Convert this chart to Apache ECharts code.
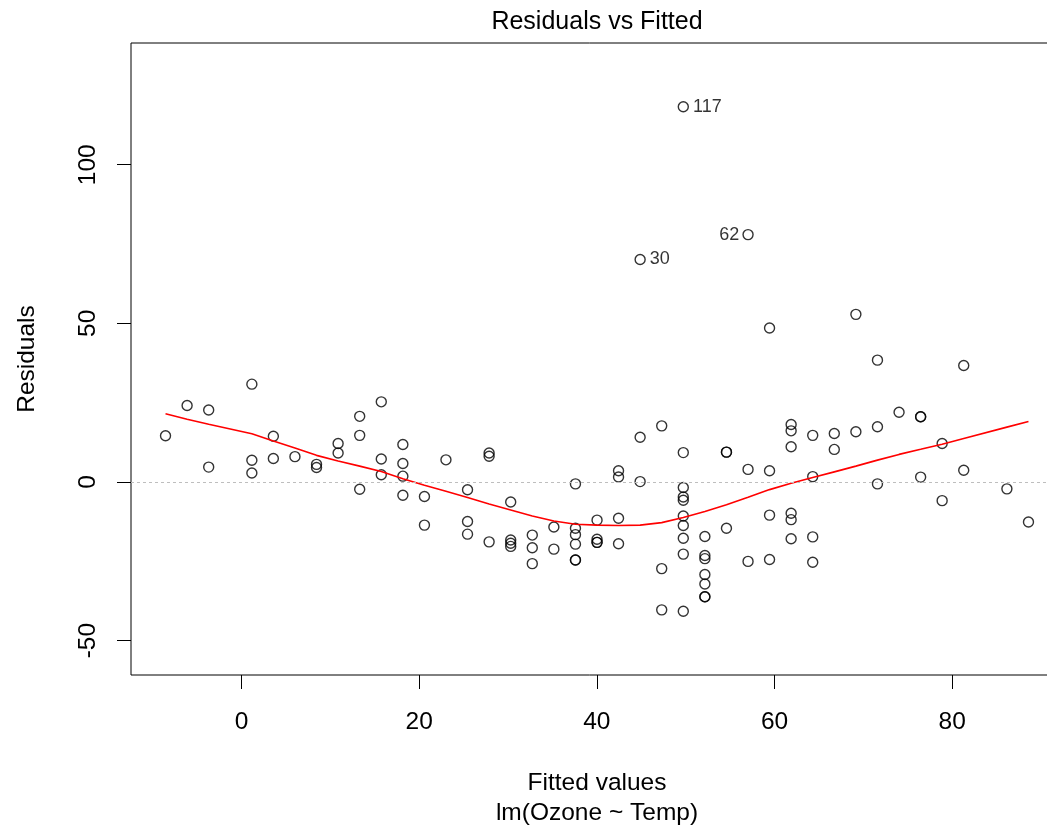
<!DOCTYPE html>
<html>
<head>
<meta charset="utf-8">
<title>Residuals vs Fitted</title>
<script src="https://cdn.jsdelivr.net/npm/echarts@6/dist/echarts.min.js"></script>
<style>
  html, body { margin: 0; padding: 0; background: #fff; }
  #chart { width: 1047px; height: 827px; }
</style>
</head>
<body>
<div id="chart"></div>
<script>
// lm(Ozone ~ Temp), airquality: one entry per complete observation
const rows = [1,2,3,4,6,7,8,9,11,12,13,14,15,16,17,18,19,20,21,22,23,24,28,29,30,31,38,40,41,44,47,48,49,50,51,62,63,64,66,67,68,69,70,71,73,74,76,77,78,79,80,81,82,85,86,87,88,89,90,91,92,93,94,95,96,97,98,99,100,101,104,105,106,108,109,110,111,112,113,114,116,117,118,120,121,122,123,124,125,126,127,128,129,130,131,132,133,134,135,136,137,138,139,140,141,142,143,144,145,146,147,148,149,151,152,153];

const fitted = [15.73,27.87,32.73,3.58,13.30,10.87,-3.70,1.16,32.73,20.59,13.30,18.16,-6.13,8.44,13.30,-8.56,18.16,3.58,-3.70,30.30,1.16,1.16,15.73,49.73,44.87,37.59,52.16,71.59,64.30,52.16,40.02,27.87,10.87,30.30,37.59,57.02,59.44,49.73,54.59,54.59,66.73,76.45,76.45,69.16,30.30,49.73,47.30,49.73,52.16,57.02,64.30,59.44,32.73,61.87,59.44,52.16,61.87,66.73,61.87,54.59,49.73,49.73,49.73,52.16,61.87,59.44,64.30,69.16,71.59,71.59,61.87,52.16,47.30,40.02,44.87,37.59,42.44,42.44,40.02,27.87,44.87,49.73,61.87,88.59,81.30,86.16,81.30,74.02,76.45,78.87,78.87,64.30,57.02,47.30,42.44,35.16,30.30,49.73,37.59,40.02,25.44,25.44,42.44,15.73,37.59,18.16,52.16,8.44,25.44,49.73,20.59,6.01,23.01,35.16,37.59,18.16];

const resid = [25.27,8.13,-20.73,14.42,14.70,12.13,22.70,6.84,-25.73,-4.59,-2.30,-4.16,24.13,5.56,20.70,14.56,11.84,7.42,4.70,-19.30,2.84,30.84,7.27,-4.73,70.13,-0.59,-23.16,-0.59,-25.30,-29.16,-19.02,9.13,9.13,-18.30,-24.59,77.98,-10.44,-17.73,9.41,-14.59,10.27,20.55,20.55,15.84,-20.30,-22.73,-40.30,-1.73,-17.16,3.98,14.70,3.56,-16.73,18.13,48.56,-32.16,-9.87,15.27,-11.87,9.41,9.27,-10.73,-40.73,-36.16,16.13,-24.44,1.70,52.84,17.41,38.41,-17.87,-24.16,17.70,-18.02,14.13,-14.59,-11.44,1.56,-19.02,-18.87,0.13,118.27,11.13,-12.59,36.70,-2.16,3.70,21.98,1.55,-5.87,12.13,-17.30,-25.02,-27.30,-19.44,-14.16,-6.30,-5.73,-16.59,-12.02,-16.44,-12.44,3.56,2.27,-24.59,5.84,-36.16,4.56,-2.44,-13.73,-13.59,7.99,6.99,-21.16,-19.59,1.84];

// lowess smoother of residuals on fitted values
const smoothX = [-8.56,-6.13,-3.70,1.16,3.58,6.01,8.44,10.87,13.30,15.73,18.16,20.59,23.01,25.44,27.87,30.30,32.73,35.16,37.59,40.02,42.44,44.87,47.30,49.73,52.16,54.59,57.02,59.44,61.87,64.30,66.73,69.16,71.59,74.02,76.45,78.87,81.30,86.16,88.59];
const smoothY = [21.5,19.8,18.2,15.2,12.9,10.7,8.4,6.6,5.0,3.3,1.0,-1.0,-2.9,-4.9,-6.9,-8.8,-10.7,-12.3,-13.3,-13.6,-13.7,-13.6,-12.8,-11.2,-9.3,-7.2,-4.8,-2.4,-0.4,1.4,3.2,5.0,6.9,8.7,10.3,11.9,13.7,17.3,19.1];

// observations with the largest residuals and the side their id is written on
const flaggedRows = [117, 62, 30];
const flaggedSide = ['right', 'left', 'right'];

const xTicks = [0, 20, 40, 60, 80];
const yTicks = [-50, 0, 50, 100];

const FONT = 'Liberation Sans, Arial, sans-serif';

const points = rows.map(function (r, i) {
  const item = { value: [fitted[i], resid[i]] };
  const k = flaggedRows.indexOf(r);
  if (k >= 0) {
    item.label = {
      show: true,
      formatter: String(r),
      position: flaggedSide[k],
      distance: flaggedSide[k] === 'right' ? 4 : 3,
      fontSize: 18,
      fontFamily: FONT,
      color: '#000'
    };
  }
  return item;
});

const smooth = smoothX.map(function (x, i) { return [x, smoothY[i]]; });

const chart = echarts.init(document.getElementById('chart'), null, { renderer: 'canvas' });

chart.setOption({
  animation: false,
  backgroundColor: '#fff',
  textStyle: { fontFamily: FONT },
  grid: {
    left: 131, top: 43, width: 932, height: 632,
    show: true, borderColor: '#000', borderWidth: 1,
    backgroundColor: 'transparent',
    containLabel: false, outerBoundsMode: 'none'
  },
  xAxis: {
    type: 'value', min: -12.446, max: 92.476,
    axisLine: { show: false, onZero: false },
    splitLine: { show: false },
    axisTick: { show: true, customValues: xTicks, length: 14, lineStyle: { color: '#000', width: 1 } },
    axisLabel: { customValues: xTicks, margin: 35, fontSize: 24.5, color: '#000', fontFamily: FONT }
  },
  yAxis: {
    type: 'value', min: -60.83, max: 138.37,
    axisLine: { show: false, onZero: false },
    splitLine: { show: false },
    axisTick: { show: true, customValues: yTicks, length: 14, lineStyle: { color: '#000', width: 1 } },
    axisLabel: { customValues: yTicks, rotate: 90, margin: 30, fontSize: 24.5, color: '#000', fontFamily: FONT }
  },
  series: [
    {
      type: 'scatter',
      data: points,
      symbol: 'circle',
      symbolSize: 10,
      itemStyle: { color: 'rgba(0,0,0,0)', borderColor: '#000', borderWidth: 1.4 },
      markLine: {
        silent: true,
        symbol: ['none', 'none'],
        label: { show: false },
        lineStyle: { color: '#bebebe', type: [3, 3], width: 1.2 },
        data: [{ yAxis: 0 }]
      },
      z: 2
    },
    {
      type: 'line',
      data: smooth,
      showSymbol: false,
      smooth: false,
      lineStyle: { color: '#ff0000', width: 1.6 },
      z: 3
    }
  ],
  graphic: [
    {
      type: 'text',
      style: { text: 'Residuals vs Fitted', x: 597, y: 22, align: 'center', verticalAlign: 'middle', fontSize: 25, fontFamily: FONT, fill: '#000' }
    },
    {
      type: 'text',
      style: { text: 'Fitted values', x: 597, y: 783, align: 'center', verticalAlign: 'middle', fontSize: 24.5, fontFamily: FONT, fill: '#000' }
    },
    {
      type: 'text',
      style: { text: 'lm(Ozone ~ Temp)', x: 597, y: 813, align: 'center', verticalAlign: 'middle', fontSize: 24.5, fontFamily: FONT, fill: '#000' }
    },
    {
      type: 'text', x: 27, y: 359, rotation: Math.PI / 2,
      style: { text: 'Residuals', x: 0, y: 0, align: 'center', verticalAlign: 'middle', fontSize: 24.5, fontFamily: FONT, fill: '#000' }
    }
  ]
});
</script>
</body>
</html>
